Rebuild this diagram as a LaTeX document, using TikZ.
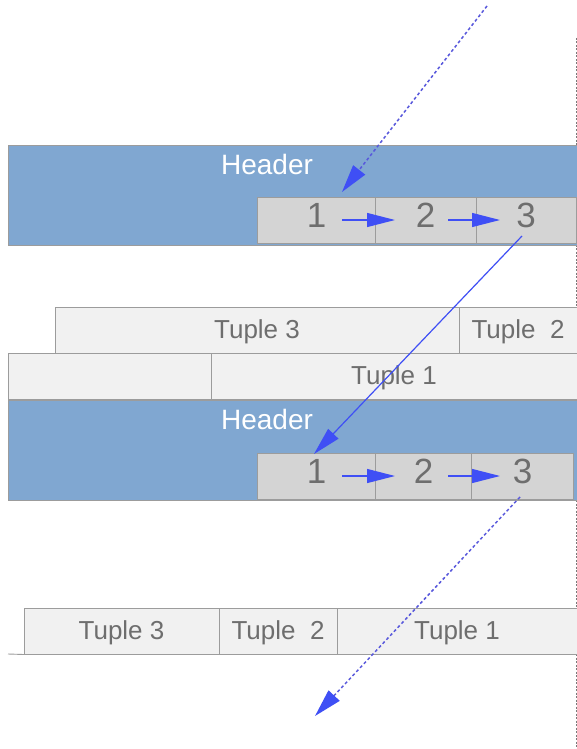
\documentclass[tikz,border=0pt]{standalone}
\usepackage{fontspec}
\setmainfont{Liberation Sans}
\usetikzlibrary{arrows.meta}
\definecolor{hdrblue}{HTML}{80A7D1}
\definecolor{cellgray}{HTML}{D4D4D4}
\definecolor{tuplefill}{HTML}{F1F1F1}
\definecolor{edgegray}{HTML}{9C9C9C}
\definecolor{arrblue}{HTML}{3F4FF5}
\definecolor{dashblue}{HTML}{5858DC}
\definecolor{txtgray}{HTML}{6E6E6E}
\definecolor{sidegray}{HTML}{7A7A7A}
\begin{document}
\begin{tikzpicture}[x=1pt,y=-1pt,
  hdr/.style={draw=edgegray,line width=0.9pt,fill=hdrblue,inner sep=0pt,outer sep=0pt,minimum width=569pt,minimum height=100pt},
  hdrtext/.style={text=white,inner sep=0pt,font=\fontsize{28}{28}\selectfont},
  cell/.style={draw=edgegray,line width=0.9pt,fill=cellgray,inner sep=0pt,outer sep=0pt,minimum height=46pt,
    text=txtgray,font=\fontsize{35}{35}\selectfont,text height=25pt,text depth=11pt},
  tuple/.style={draw=edgegray,line width=0.9pt,fill=tuplefill,inner sep=0pt,outer sep=0pt,minimum height=46pt,
    text=txtgray,font=\fontsize{26}{26}\selectfont,text height=19pt,text depth=3pt},
  link/.style={arrblue,line width=1.2pt,-{Triangle[length=28pt,width=14pt]}},
  dlink/.style={dashblue,line width=1.5pt,dash pattern=on 3pt off 2.5pt,-{Triangle[length=28pt,width=15pt,color=arrblue]}},
  sideline/.style={sidegray,line width=0.9pt,dash pattern=on 2pt off 1.5pt}
]
\useasboundingbox (0,0) rectangle (577,749);
\fill[white] (0,0) rectangle (577,749);

% right-hand dotted border
\coordinate (vtop) at (576,38);
\coordinate (vbot) at (576,749);
\draw[sideline] (vtop) -- (vbot);

% ---- first page block ----
\node[hdr] (h1) at (292.5,195) {};
\node[hdrtext] (h1t) at (267,164) {Header};
\node[cell,minimum width=118pt] (a1) at (316.5,220) {1};
\node[cell,minimum width=101pt] (a2) at (425.5,220) {2};
\node[cell,minimum width=100pt] (a3) at (526,220) {3};

% ---- tuples ----
\node[tuple,minimum width=404pt] (ta3) at (257,330) {Tuple 3};
\node[tuple,minimum width=118pt] (ta2) at (518,330) {Tuple\ \ 2};
\node[tuple,minimum width=203pt] (tb0) at (109.5,376.5) {};
\node[tuple,minimum width=366pt] (tb1) at (394,376.5) {Tuple 1};

% ---- second page block ----
\node[hdr] (h2) at (292.5,450) {};
\node[hdrtext] (h2t) at (267,419) {Header};
\node[cell,minimum width=118pt] (b1) at (316.5,476) {1};
\node[cell,minimum width=96pt] (b2) at (423.5,476) {2};
\node[cell,minimum width=102pt] (b3) at (522.5,476) {3};

% ---- bottom tuples ----
\coordinate (bl) at (8,654);
\node[tuple,minimum width=195pt] (tc3) at (121.5,631.5) {Tuple 3};
\node[tuple,minimum width=118pt] (tc2) at (278,631.5) {Tuple\ \ 2};
\node[tuple,minimum width=240pt] (tc1) at (457,631.5) {Tuple 1};
\draw[edgegray,line width=0.9pt] (bl) -- (tc3.south west);

% ---- arrows ----
\draw[link,shorten <=25.5pt,shorten >=30.5pt] (a1.center) -- (a2.center);
\draw[link,shorten <=22.5pt,shorten >=26pt] (a2.center) -- (a3.center);
\draw[link,shorten <=25.5pt,shorten >=28.5pt] (b1.center) -- (b2.center);
\draw[link,shorten <=24.5pt,shorten >=22.5pt] (b2.center) -- (b3.center);

\coordinate (p1s) at (487,6);
\coordinate (p1e) at (342,192);
\draw[dlink] (p1s) -- (p1e);

\coordinate (p2s) at (522,236);
\coordinate (p2e) at (314,454);
\draw[link] (p2s) -- (p2e);

\coordinate (p3s) at (520,497);
\coordinate (p3e) at (315,716);
\draw[dlink] (p3s) -- (p3e);
\end{tikzpicture}
\end{document}
